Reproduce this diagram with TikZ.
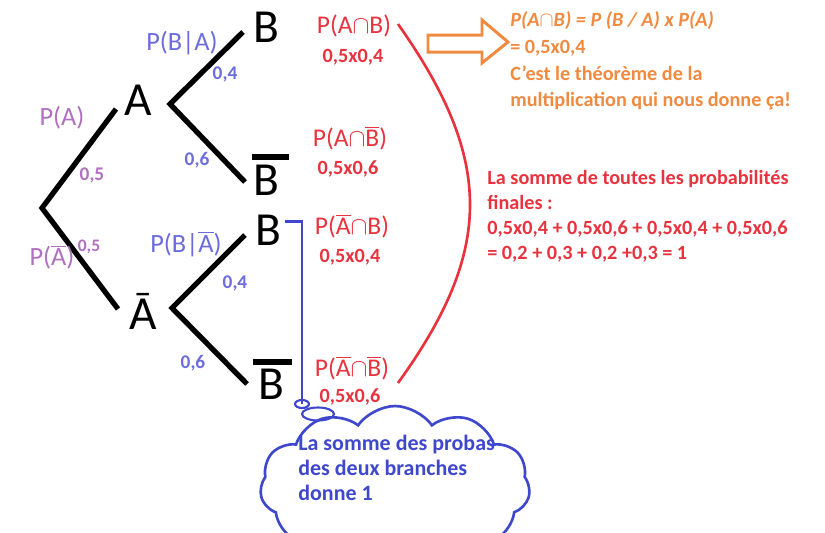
\documentclass[tikz,border=0pt]{standalone}
\usepackage{fontspec}
\setmainfont{Carlito}
\usetikzlibrary{shapes.symbols,positioning}
\definecolor{probviolet}{RGB}{176,112,192}
\definecolor{probbleu}{RGB}{108,108,220}
\definecolor{probrouge}{RGB}{232,51,63}
\definecolor{proborange}{RGB}{240,138,64}
\definecolor{nuagebleu}{RGB}{63,72,204}
\newcommand{\ob}[1]{\ensuremath{\overline{\mbox{#1}}}}
\tikzset{
  branch/.style={line width=3pt,black},
  lettre/.style={font=\fontsize{27}{27}\selectfont,inner sep=0pt},
  lblA/.style={text=probviolet,font=\fontsize{15}{15}\selectfont,inner sep=0pt},
  numA/.style={text=probviolet,font=\bfseries\fontsize{11}{11}\selectfont,inner sep=0pt},
  lblB/.style={text=probbleu,font=\fontsize{15}{15}\selectfont,inner sep=0pt},
  numB/.style={text=probbleu,font=\bfseries\fontsize{11}{11}\selectfont,inner sep=0pt},
  inter/.style={text=probrouge,font=\fontsize{14.5}{14.5}\selectfont,inner sep=0pt},
  produit/.style={text=probrouge,font=\bfseries\fontsize{11.5}{11.5}\selectfont,inner sep=0pt},
  remarque/.style={font=\bfseries\fontsize{11.5}{15.3}\selectfont,inner sep=0pt,align=left,anchor=north west}
}
\begin{document}
\begin{tikzpicture}[x=0.02cm,y=-0.02cm]
\clip (0,0) rectangle (825,532);
% arbre
\coordinate (root) at (42,208);
\coordinate (tA) at (116,109);
\coordinate (tAb) at (118,309);
\coordinate (vA) at (170,104);
\coordinate (vAb) at (172,308);
\coordinate (tB1) at (243,32);
\coordinate (tB2) at (245,182);
\coordinate (tB3) at (245,235);
\coordinate (tB4) at (247,384);
\draw[branch] (tA) -- (root) -- (tAb);
\draw[branch] (tB1) -- (vA) -- (tB2);
\draw[branch] (tB3) -- (vAb) -- (tB4);
\node[lettre] (A) at (138,100) {A};
\node[lettre] (Ab) at (143,311) {Ā};
\node[lettre] (B1) at (266,27) {B};
\node[lettre] (B2) at (266,180) {B};
\node[lettre] (B3) at (268,230) {B};
\node[lettre] (B4) at (271,384) {B};
\draw[branch] (252,157) -- (289,157);
\draw[branch] (253,362) -- (292,362);
% probabilites sur les branches
\node[lblA] (pA) at (62,118) {P(A)};
\node[numA] (nA) at (92,175) {0,5};
\node[lblA] (pAb) at (52,257) {P(\ob{A})};
\node[numA,font=\bfseries\fontsize{10}{10}\selectfont] (nAb) at (89,247) {0,5};
\node[lblB] (pBA) at (182,43) {P(B|A)};
\node[numB] (n1) at (225,74) {0,4};
\node[numB] (n2) at (197,160) {0,6};
\node[lblB] (pBAb) at (186,244) {P(B|\ob{A})};
\node[numB] (n3) at (235,283) {0,4};
\node[numB] (n4) at (193,363) {0,6};
% issues
\node[inter] (I1) at (354,26) {P(A$\cap$B)};
\node[produit] (r1) at (353,57) {0,5x0,4};
\node[inter] (I2) at (350,138) {P(A$\cap$\ob{B})};
\node[produit] (r2) at (348,169) {0,5x0,6};
\node[inter] (I3) at (352,226) {P(\ob{A}$\cap$B)};
\node[produit] (r3) at (350,257) {0,5x0,4};
\node[inter] (I4) at (352,368) {P(\ob{A}$\cap$\ob{B})};
\node[produit] (r4) at (350,397) {0,5x0,6};
% accolade rouge
\coordinate (accH) at (398,24);
\coordinate (accB) at (398,383);
\draw[probrouge,line width=1.5pt] (accH) .. controls (494,160) and (494,250) .. (accB);
% fleche orange
\draw[proborange,line width=1.7pt,line join=miter] (428,35) -- (482,35) -- (482,20) -- (508,42) -- (482,63) -- (482,52) -- (428,52) -- cycle;
\node[remarque,text=proborange] (theoreme) at (510,11) {\itshape P(A$\cap$B) = P (B / A) x P(A)\\= 0,5x0,4\\C'est le théorème de la\\multiplication qui nous donne ça!};
\node[remarque,text=probrouge,font=\bfseries\fontsize{11.5}{14.2}\selectfont] (somme) at (487,170) {La somme de toutes les probabilités\\finales :\\0,5x0,4 + 0,5x0,6 + 0,5x0,4 + 0,5x0,6\\= 0,2 + 0,3 + 0,2 +0,3 = 1};
% bulle
\coordinate (bulle1) at (302,404);
\draw[nuagebleu,line width=1.2pt] ([xshift=2pt,yshift=-4pt]B3.north east) -| (bulle1);
\draw[nuagebleu,line width=1.2pt] (bulle1) ellipse [x radius=0.14cm,y radius=0.08cm];
\draw[nuagebleu,line width=1.2pt] (318,414) ellipse [x radius=0.32cm,y radius=0.13cm];
\node[cloud,draw=nuagebleu,line width=1.5pt,cloud puffs=11,cloud puff arc=110,aspect=1.8,minimum width=5.4cm,minimum height=3.2cm] (nuage) at (395,486) {};
\node[remarque,text=nuagebleu,font=\bfseries\fontsize{12.5}{14.2}\selectfont] (nuagetxt) at (298,435) {La somme des probas\\des deux branches\\donne 1};
\end{tikzpicture}
\end{document}
